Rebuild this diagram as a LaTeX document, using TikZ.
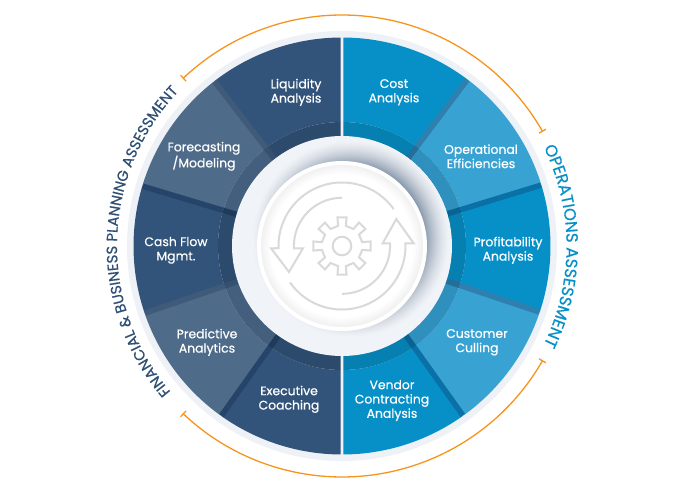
\documentclass[tikz,border=0pt]{standalone}
\usepackage{fontspec}
\setmainfont[FakeBold=0.55]{Poppins}
\usetikzlibrary{decorations.text}
\definecolor{navyseg}{HTML}{33547A}
\definecolor{navyring}{HTML}{2C4A6B}
\definecolor{slateseg}{HTML}{4F6B8A}
\definecolor{slatering}{HTML}{445F7E}
\definecolor{blueseg}{HTML}{0790C8}
\definecolor{bluering}{HTML}{0680B0}
\definecolor{skyseg}{HTML}{38A3D3}
\definecolor{skyring}{HTML}{2F90BD}
\definecolor{bandA}{HTML}{405B7A}
\definecolor{bandAr}{HTML}{365070}
\definecolor{bandB}{HTML}{264469}
\definecolor{bandBr}{HTML}{203A5C}
\definecolor{bandC}{HTML}{2F80AE}
\definecolor{bandCr}{HTML}{246E99}
\definecolor{bandD}{HTML}{0A70A6}
\definecolor{bandDr}{HTML}{086292}
\definecolor{paleedge}{HTML}{EEF2F6}
\definecolor{discface}{HTML}{F0F3F7}
\definecolor{shadowcol}{HTML}{7F90A5}
\definecolor{plateedge}{HTML}{F1F1F2}
\definecolor{iconline}{HTML}{D9D9D9}
\definecolor{orangeline}{HTML}{F7941D}
\definecolor{navytext}{HTML}{2F4F75}
\definecolor{bluetext}{HTML}{0790C8}
\newcommand{\segpiece}[4]{%
  \fill[#3] (#1:208.5) arc (#1:#2:208.5) -- (#2:124) arc (#2:#1:124) -- cycle;
  \fill[#4] (#1:124) arc (#1:#2:124) -- (#2:105) arc (#2:#1:105) -- cycle;
}
\newcommand{\bandpiece}[3]{%
  \draw[bandline,#2] (#1:124) -- (#1:208);
  \draw[bandline,#3] (#1:105) -- (#1:124);
}
\tikzset{
  bandline/.style={line width=5.5pt},
  seglabel/.style={text=white,font=\fontsize{12.4}{14.3}\selectfont,align=center,inner sep=0pt},
  orangearc/.style={orangeline,line width=1.3pt},
  iconstroke/.style={iconline,line width=2pt,line join=miter}
}
\newfontfamily\ringfont[FakeBold=0.6]{Poppins}
\begin{document}
\begin{tikzpicture}[x=1pt,y=1pt]
\useasboundingbox (-342,-246) rectangle (343,246);
\fill[white] (-342,-246) rectangle (343,246);
% pale edge
\fill[paleedge] (0,0) circle (215);
% left half
\begin{scope}
\clip (-342,-246) rectangle (-1.3,246);
\segpiece{90}{127.8}{navyseg}{navyring}
\segpiece{127.8}{163.3}{slateseg}{slatering}
\segpiece{163.3}{198.8}{navyseg}{navyring}
\segpiece{198.8}{234.6}{slateseg}{slatering}
\segpiece{234.6}{270}{navyseg}{navyring}
\bandpiece{127.8}{bandA}{bandAr}
\bandpiece{163.3}{bandB}{bandBr}
\bandpiece{198.8}{bandA}{bandAr}
\bandpiece{234.6}{bandB}{bandBr}
\end{scope}
% right half
\begin{scope}
\clip (1.3,-246) rectangle (343,246);
\segpiece{53}{90}{blueseg}{bluering}
\segpiece{17}{53}{skyseg}{skyring}
\segpiece{-18.5}{17}{blueseg}{bluering}
\segpiece{-54.5}{-18.5}{skyseg}{skyring}
\segpiece{-90}{-54.5}{blueseg}{bluering}
\bandpiece{53}{bandC}{bandCr}
\bandpiece{17}{bandD}{bandDr}
\bandpiece{-18.5}{bandC}{bandCr}
\bandpiece{-54.5}{bandD}{bandDr}
\end{scope}
% central disc with soft shadow of the plate towards the upper right
\fill[discface] (0,0) circle (110);
\begin{scope}
\clip (0,0) circle (110);
\foreach \r in {0,1,...,27}{
  \pgfmathtruncatemacro{\pct}{100*(\r/27)^1.6}
  \fill[shadowcol!\pct!discface] (9,7) circle ({100-\r});
}
\end{scope}
% plate
\fill[white] (0,0) circle (85);
\foreach \r in {0,1,...,9}{
  \pgfmathtruncatemacro{\pct}{100-\r*11}
  \fill[plateedge!\pct!white] (0,0) circle ({81-\r});
}
% gear icon
\draw[iconstroke] (-11:20.5)
  \foreach \k in {0,45,...,315}{
    -- (\k-11:20.5) -- (\k-9:29) -- (\k+9:29) -- (\k+11:20.5) -- (\k+34:20.5)
  } -- cycle;
\draw[iconstroke] (0,0) circle (9.3);
% arrows
\draw[iconstroke] (35.5:63.5) arc (35.5:182:63.5) -- (-71,-2.3) -- (-53,-26) -- (-39,-2.3) -- (-48,-2.3) arc (183:90:48);
\draw[iconstroke] (215:63.5) arc (215:362.4:63.5) -- (71.7,2.7) -- (54.3,27) -- (40.7,2.7) -- (48,2.7) arc (3:-90:48);
% orange arcs
\draw[orangearc] (133.4:231) arc (133.4:29.8:231);
\draw[orangearc] (226.6:231) arc (226.6:330.2:231);
\draw[orangearc] (133.4:227) -- (133.4:235);
\draw[orangearc] (29.8:227) -- (29.8:235);
\draw[orangearc] (226.6:227) -- (226.6:235);
\draw[orangearc] (330.2:227) -- (330.2:235);
% ring texts
\path[postaction={decorate,decoration={text along path,text align=center,
  text={|\ringfont\fontsize{14.8}{14.8}\selectfont\color{navytext}|FINANCIAL {\&} BUSINESS PLANNING ASSESSMENT}}}]
  (225:225) arc (225:132:225);
\path[postaction={decorate,decoration={text along path,text align=center,
  text={|\ringfont\fontsize{16.4}{16.4}\selectfont\color{bluetext}|OPERATIONS ASSESSMENT}}}]
  (29:224.5) arc (29:-29:224.5);
% labels
\node[seglabel] (liq) at (-46,153.7) {Liquidity\\Analysis};
\node[seglabel] (fore) at (-138,89.7) {Forecasting\\/Modeling};
\node[seglabel] (cash) at (-166,-4.3) {Cash Flow\\Mgmt.};
\node[seglabel] (pred) at (-135,-96.3) {Predictive\\Analytics};
\node[seglabel] (exec) at (-53,-153.3) {Executive\\Coaching};
\node[seglabel] (cost) at (52,153.7) {Cost\\Analysis};
\node[seglabel] (oper) at (139,89.7) {Operational\\Efficiencies};
\node[seglabel] (prof) at (166,-4.3) {Profitability\\Analysis};
\node[seglabel] (cust) at (135,-96.3) {Customer\\Culling};
\node[seglabel] (vend) at (50,-154.5) {Vendor\\Contracting\\Analysis};
\end{tikzpicture}
\end{document}
